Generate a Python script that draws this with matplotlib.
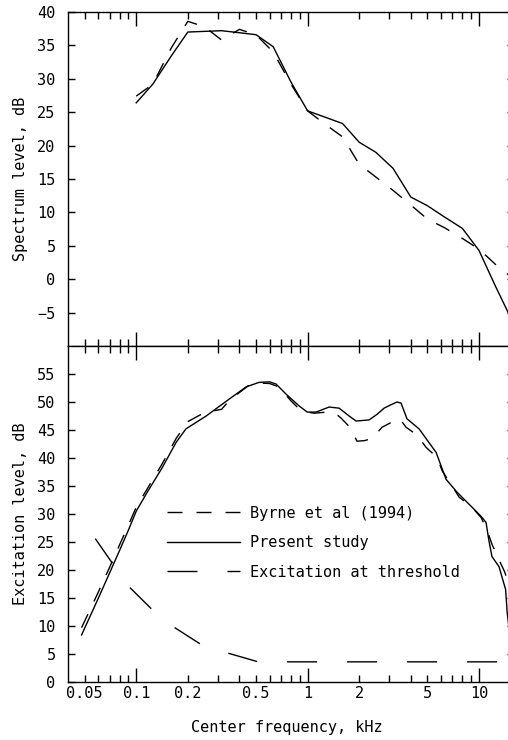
import matplotlib
matplotlib.use("Agg")
import matplotlib.pyplot as plt
from matplotlib.ticker import FixedLocator, FuncFormatter, NullFormatter

plt.rcParams['font.family'] = ['DejaVu Sans Mono']
plt.rcParams['font.size'] = 11
plt.rcParams['lines.scale_dashes'] = False

# top panel: spectrum level at 1/3-octave centre frequencies (kHz)
freq_top = [0.1, 0.125, 0.16, 0.2, 0.25, 0.315, 0.4, 0.5, 0.63, 0.8, 1.0, 1.25,
            1.6, 2.0, 2.5, 3.15, 4.0, 5.0, 6.3, 8.0, 10.0, 12.5, 16.0]
present_spec = [26.4, 29.2, 33.4, 37.0, 37.1, 37.2, 36.9, 36.6, 34.8, 29.5, 25.2, 24.3,
                23.3, 20.5, 19.0, 16.6, 12.3, 11.0, 9.3, 7.6, 4.3, -1.1, -6.8]
byrne_spec = [27.4, 29.2, 34.6, 38.6, 37.8, 35.8, 37.4, 36.6, 34.0, 29.2, 25.2, 23.3,
              21.3, 17.2, 15.3, 13.3, 11.1, 9.0, 7.7, 6.1, 4.5, 2.2, 0.0]

# bottom panel: excitation patterns
present_f = [0.048, 0.06, 0.07, 0.08, 0.09, 0.1, 0.116, 0.142, 0.171, 0.195, 0.256, 0.348,
             0.438, 0.52, 0.6, 0.655, 0.749, 0.892, 0.995, 1.12, 1.335, 1.527, 1.746, 1.918,
             2.284, 2.542, 2.793, 3.11, 3.325, 3.51, 3.8, 4.47, 5.62, 6.42, 7.44, 8.98,
             10.27, 10.99, 11.4, 11.9, 13.08, 13.6, 14.3, 14.6, 16.0]
present_exc = [8.4, 14.9, 19.5, 23.5, 27.1, 30.5, 33.9, 38.3, 42.8, 45.2, 47.5, 50.5,
               52.7, 53.5, 53.6, 53.2, 51.4, 49.3, 48.2, 48.2, 49.1, 48.9, 47.5, 46.6,
               46.8, 47.8, 48.9, 49.6, 50.0, 49.8, 47.0, 45.2, 41.0, 36.2, 33.9, 31.4,
               29.6, 28.5, 25.4, 22.4, 20.6, 18.8, 16.5, 12.4, 2.0]

byrne_f = [0.048, 0.06, 0.07, 0.08, 0.09, 0.1, 0.116, 0.142, 0.171, 0.2, 0.25, 0.315,
           0.35, 0.45, 0.52, 0.6, 0.68, 0.8, 0.917, 1.09, 1.3, 1.45, 1.57, 1.79, 1.94,
           2.15, 2.38, 2.72, 3.19, 3.45, 3.75, 4.35, 4.91, 5.69, 6.1, 7.0, 7.66, 8.98,
           10.27, 11.13, 11.9, 12.9, 14.1, 14.6, 16.0]
byrne_exc = [9.7, 16.0, 20.5, 24.5, 28.0, 31.2, 34.5, 39.0, 43.5, 46.5, 48.1, 48.7,
             50.3, 52.9, 53.4, 53.3, 52.7, 50.2, 48.4, 48.0, 48.2, 48.0, 47.1, 45.3, 43.0,
             43.1, 43.5, 45.5, 46.6, 47.0, 45.5, 44.1, 41.9, 40.1, 37.7, 34.9, 33.0, 31.4,
             29.4, 27.2, 24.6, 22.2, 19.7, 18.3, 15.0]

thresh_f = [0.0577, 0.0715, 0.0923, 0.1223, 0.166, 0.236, 0.339, 0.515, 0.6, 16.0]
thresh_exc = [25.6, 21.5, 16.8, 13.1, 9.8, 6.8, 5.2, 3.6, 3.6, 3.6]

x_major = [0.1, 1, 10]
x_minor = [0.05, 0.06, 0.07, 0.08, 0.09, 0.2, 0.3, 0.4, 0.5, 0.6, 0.7, 0.8, 0.9,
           2, 3, 4, 5, 6, 7, 8, 9]
x_labels = {0.05: "0.05", 0.1: "0.1", 0.2: "0.2", 0.5: "0.5", 1: "1", 2: "2",
            5: "5", 10: "10"}

# dash lengths in points (pixels / 1.389 at 100 dpi)
BYRNE_DASH = (0, (10.8, 10.1))
THRESH_DASH = (0, (21.6, 21.6))
LW = 1.0

W, H = 508, 740
fig = plt.figure(figsize=(W / 100, H / 100), dpi=100)
ax1 = fig.add_axes([68 / W, 1 - 346 / H, 446 / W, 334 / H])
ax2 = fig.add_axes([68 / W, 1 - 682 / H, 446 / W, 336 / H])


def label_fmt(v, pos):
    for k, s in x_labels.items():
        if abs(v - k) < 1e-6:
            return s
    return ""


for ax in (ax1, ax2):
    ax.set_xscale("log")
    ax.set_xlim(0.04, 16)
    ax.xaxis.set_major_locator(FixedLocator(x_major))
    ax.xaxis.set_minor_locator(FixedLocator(x_minor))
    ax.tick_params(which="both", direction="in", top=True, bottom=True,
                   left=True, right=True, width=1.0, color="black")
    ax.tick_params(axis="x", which="major", length=10, pad=3)
    ax.tick_params(axis="x", which="minor", length=5, pad=3)
    ax.tick_params(axis="y", which="major", length=5, pad=9)
    for sp in ax.spines.values():
        sp.set_linewidth(1.0)

# top panel
ax1.plot(freq_top, present_spec, color="black", lw=LW)
ax1.plot(freq_top, byrne_spec, color="black", lw=LW, linestyle=BYRNE_DASH)
ax1.set_ylim(-10, 40)
ax1.set_yticks(list(range(-5, 41, 5)))
ax1.xaxis.set_major_formatter(NullFormatter())
ax1.xaxis.set_minor_formatter(NullFormatter())
ax1.set_ylabel("Spectrum level, dB")
ax1.yaxis.set_label_coords(-0.09, 0.5)

# bottom panel
ax2.plot(byrne_f, byrne_exc, color="black", lw=LW, linestyle=BYRNE_DASH,
         label="Byrne et al (1994)")
ax2.plot(present_f, present_exc, color="black", lw=LW, label="Present study")
ax2.plot(thresh_f, thresh_exc, color="black", lw=LW, linestyle=THRESH_DASH,
         label="Excitation at threshold")
ax2.set_ylim(0, 60)
ax2.set_yticks(list(range(0, 56, 5)))
ax2.xaxis.set_major_formatter(FuncFormatter(label_fmt))
ax2.xaxis.set_minor_formatter(FuncFormatter(label_fmt))
ax2.set_ylabel("Excitation level, dB")
ax2.yaxis.set_label_coords(-0.09, 0.5)
ax2.set_xlabel("Center frequency, kHz")
ax2.xaxis.set_label_coords(0.49, -0.113)

ax2.legend(loc="upper left", bbox_to_anchor=(0.222, 0.525), frameon=False,
           borderpad=0, borderaxespad=0, handlelength=4.8, handletextpad=0.6,
           labelspacing=0.95, fontsize=11)

fig.savefig("out.png", dpi=100)
